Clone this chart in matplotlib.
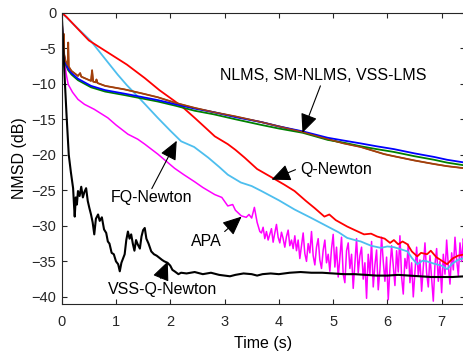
import numpy as np
import matplotlib.pyplot as plt

plt.rcParams['font.family'] = ['Liberation Sans', 'DejaVu Sans']

# NLMS (blue), SM-NLMS (green), VSS-LMS (brown)
t_nlms = [0, 0.01, 0.02, 0.04, 0.07, 0.12, 0.18, 0.3, 0.54, 0.8, 1.16, 1.5, 1.77, 2.1, 2.45,
          2.8, 3.2, 3.68, 4.0, 4.44, 4.9, 5.2, 5.51, 5.8, 6.12, 6.5, 6.86, 7.1, 7.43]
nlms = [0, -2.5, -4.5, -6.0, -7.0, -7.9, -8.5, -9.3, -10.3, -10.9, -11.4, -11.9, -12.3, -12.9, -13.5,
        -14.0, -14.7, -15.4, -16.0, -16.7, -17.6, -18.0, -18.4, -18.8, -19.2, -19.8, -20.3, -20.7, -21.1]
sm_nlms = [0, -2.5, -4.6, -6.2, -7.2, -8.1, -8.7, -9.5, -10.5, -11.1, -11.6, -12.1, -12.5, -13.1, -13.8,
           -14.3, -15.0, -15.8, -16.3, -16.9, -17.9, -18.3, -18.8, -19.2, -19.6, -20.2, -20.7, -21.1, -21.5]

t_vss = [0, 0.01, 0.02, 0.035, 0.04, 0.045, 0.07, 0.11, 0.12, 0.13, 0.18, 0.3, 0.34, 0.36, 0.54,
         0.56, 0.58, 0.63, 0.64, 0.66, 0.8, 1.16, 1.5, 1.77, 2.1, 2.45, 2.8, 3.2, 3.68, 4.0,
         4.44, 4.9, 5.2, 5.51, 5.94, 6.12, 6.5, 6.86, 7.1, 7.43]
vss_lms = [0, -2.4, -4.3, -5.5, -3.0, -5.8, -6.8, -7.4, -4.2, -7.6, -8.2, -8.9, -8.5, -9.0, -9.6,
           -8.1, -9.7, -9.8, -9.4, -9.9, -10.3, -10.8, -11.4, -11.9, -12.7, -13.4, -14.0, -14.6, -15.4, -16.0,
           -16.8, -17.8, -18.4, -18.9, -19.9, -20.2, -20.8, -21.3, -21.6, -21.9]

# Q-Newton (red)
t_qn = [0, 0.09, 0.3, 0.5, 0.85, 1.2, 1.53, 1.8, 2.0, 2.2, 2.45, 2.65, 2.82, 3.06, 3.2, 3.37,
        3.6, 3.92, 4.1, 4.29, 4.5, 4.66, 4.84, 4.93, 5.05, 5.26, 5.4, 5.57, 5.7, 5.81, 5.95,
        6.05, 6.12, 6.2, 6.28, 6.37, 6.45, 6.55, 6.62, 6.73, 6.8, 6.9, 7.0, 7.1, 7.2, 7.3, 7.43]
q_newton = [0, -0.6, -2.3, -3.9, -5.6, -7.3, -9.2, -10.9, -12.0, -13.1, -14.8, -16.2, -17.4, -18.5, -19.3, -20.4,
            -22.0, -23.4, -24.2, -25.1, -26.5, -27.5, -28.7, -28.4, -29.2, -30.1, -30.6, -31.2, -31.1, -31.5, -31.8,
            -32.4, -32.0, -32.6, -32.2, -32.6, -33.6, -34.3, -33.8, -34.0, -33.5, -34.4, -34.9, -35.4, -34.6, -34.2, -34.0]

# FQ-Newton (light blue)
t_fq = [0, 0.2, 0.54, 0.8, 1.03, 1.2, 1.34, 1.55, 1.77, 2.0, 2.2, 2.44, 2.7, 2.9, 3.06, 3.3,
        3.5, 3.68, 4.0, 4.29, 4.6, 4.9, 5.1, 5.26, 5.4, 5.51, 5.7, 5.88, 6.0, 6.12, 6.25,
        6.37, 6.45, 6.55, 6.65, 6.73, 6.85, 7.0, 7.1, 7.2, 7.3, 7.43]
fq_newton = [0, -1.5, -4.0, -6.5, -8.7, -10.2, -11.3, -13.0, -14.8, -16.6, -18.1, -18.9, -20.4, -21.7, -22.8, -23.9,
             -24.4, -25.1, -26.4, -27.7, -28.9, -30.1, -30.9, -31.7, -32.0, -32.2, -32.8, -33.1, -32.9, -33.0, -33.3,
             -33.6, -34.5, -35.4, -34.9, -35.0, -35.3, -35.6, -36.1, -35.3, -34.8, -34.5]

# APA (magenta): smooth start, then noisy tail
t_apa_start = [0, 0.02, 0.05, 0.08, 0.12, 0.2, 0.3, 0.42, 0.6, 0.85, 1.0, 1.22, 1.4, 1.53, 1.77,
               2.08, 2.25, 2.45, 2.6, 2.82, 2.95, 3.06, 3.15, 3.2, 3.31, 3.4, 3.45, 3.5, 3.55, 3.6, 3.65]
apa_start = [0, -3.5, -6.4, -8.5, -10.1, -11.2, -12.2, -12.9, -13.6, -14.8, -15.8, -17.1, -17.8, -18.5, -19.9,
             -21.9, -22.8, -23.8, -24.6, -25.6, -26.0, -27.2, -27.0, -27.8, -28.6, -28.8, -28.4, -28.9, -27.4, -29.5, -30.8]
apa_tail = [-31.0, -30.2, -31.8, -30.8, -32.0, -31.2, -30.4, -32.3, -31.0, -29.8, -31.6, -32.4, -30.9, -31.8,
            -33.0, -31.5, -30.6, -32.8, -32.0, -33.2,
            -31.4, -33.5, -32.0, -34.6, -32.8, -31.0, -33.9, -35.0, -32.5, -33.8, -30.8, -34.2, -35.5, -33.0,
            -31.8, -34.8, -36.0, -33.4, -32.0, -35.2, -34.0, -36.4, -33.2,
            -31.2, -35.8, -33.0, -37.2, -34.5, -31.6, -36.8, -38.0, -33.5, -32.4, -36.0, -34.0, -38.8, -35.2,
            -31.8, -36.6, -34.2,
            -33.0, -37.5, -35.2, -40.2, -34.0, -36.8, -32.2, -38.6, -35.5, -33.4, -39.0, -36.2, -31.6, -35.0,
            -37.8, -34.4, -40.4, -36.0, -32.8, -35.6, -38.4, -33.5, -36.5, -31.4, -37.2, -39.6, -34.6, -36.0,
            -32.6, -38.0, -35.2, -40.0, -36.4, -33.0, -37.0, -34.8, -39.2, -35.8, -32.4, -36.6, -38.6, -34.2,
            -37.4, -40.6, -35.4, -33.2, -37.8, -35.0, -39.4, -34.0, -36.8, -32.0, -35.6, -38.2, -33.8, -36.2,
            -31.6, -34.8, -37.0, -32.4, -35.0, -31.8, -33.2]

# VSS-Q-Newton (black)
t_vqn = [0, 0.03, 0.06, 0.09, 0.13, 0.17, 0.21, 0.23, 0.24, 0.26, 0.28, 0.3, 0.33, 0.36, 0.39, 0.42,
         0.45, 0.48, 0.51, 0.54, 0.57, 0.6, 0.63, 0.67, 0.7, 0.74, 0.78, 0.82, 0.85, 0.88, 0.92,
         0.96, 1.0, 1.04, 1.07, 1.1, 1.13, 1.16, 1.19, 1.22, 1.25, 1.28, 1.31, 1.34, 1.37, 1.4,
         1.44, 1.47, 1.5, 1.53, 1.56, 1.6, 1.65, 1.7, 1.75, 1.8, 1.85, 1.89, 1.95, 2.0, 2.04,
         2.08, 2.15, 2.2, 2.3, 2.45, 2.6, 2.75, 2.9, 3.0, 3.1, 3.2, 3.35, 3.5, 3.6, 3.7, 3.85,
         4.0, 4.2, 4.4, 4.6, 4.8, 5.0, 5.2, 5.4, 5.6, 5.8, 6.0, 6.2, 6.4, 6.6, 6.8, 7.0, 7.2, 7.43]
vss_q_newton = [0, -5, -10, -14.5, -20.0, -22.5, -24.7, -27.5, -28.7, -26.0, -27.0, -25.1, -25.8, -24.5, -26.0, -25.2,
                -24.7, -26.5, -27.5, -28.4, -29.5, -31.2, -29.0, -28.4, -29.3, -28.8, -30.5, -31.0, -32.2, -32.5, -33.8,
                -34.0, -35.0, -35.4, -36.4, -35.2, -34.6, -34.0, -32.0, -30.8, -31.8, -31.2, -32.5, -33.5, -32.0, -32.6,
                -33.2, -31.5, -30.6, -30.3, -31.8, -32.5, -33.6, -34.0, -34.2, -34.5, -34.8, -35.0, -35.2, -35.6, -36.2,
                -36.4, -36.8, -36.6, -36.7, -36.5, -36.8, -36.6, -36.9, -37.0, -37.1, -36.9, -36.7, -36.8, -37.0, -36.8, -36.7,
                -36.8, -36.6, -36.5, -36.6, -36.6, -36.7, -36.8, -36.8, -36.9, -37.0, -37.0, -36.9, -37.0, -37.1, -37.2, -37.2, -37.2, -37.1]

t_apa_tail = np.linspace(3.68, 7.43, len(apa_tail))
t_apa = list(t_apa_start) + list(t_apa_tail)
apa = apa_start + apa_tail

fig = plt.figure(figsize=(4.63, 3.52), dpi=100)
ax = fig.add_axes([61.7 / 463, 48 / 352, (465 - 61.7) / 463, (304 - 12.7) / 352])

ax.plot(t_apa, apa, color='#FF00FF', lw=1.1)
ax.plot(t_fq, fq_newton, color='#4DBEEE', lw=1.3)
ax.plot(t_qn, q_newton, color='#FF0000', lw=1.3)
ax.plot(t_vss, vss_lms, color='#A2400C', lw=1.3)
ax.plot(t_nlms, sm_nlms, color='#008000', lw=1.3)
ax.plot(t_nlms, nlms, color='#0000FF', lw=1.3)
ax.plot(t_vss, vss_lms, color='#A2400C', lw=1.0)
ax.plot(t_vqn, vss_q_newton, color='black', lw=1.5)

ax.set_xlim(0, 7.43)
ax.set_ylim(-41, 0)
ax.set_xticks(range(0, 8))
ax.set_yticks(range(-40, 1, 5))

for s in ax.spines.values():
    s.set_color('#262626')
    s.set_linewidth(0.8)
ax.tick_params(direction='in', length=3.5, width=0.8, colors='#262626', labelsize=10.5,
               top=True, right=True)
ax.tick_params(axis='x', pad=8)
ax.tick_params(axis='y', pad=4)

ax.set_xlabel('Time (s)', fontsize=11.5, labelpad=5)
ax.set_ylabel('NMSD (dB)', fontsize=11.5, labelpad=3)

arr = dict(arrowstyle='-|>,head_length=0.9,head_width=0.4', color='black', lw=0.8,
           mutation_scale=13, shrinkA=0, shrinkB=0)

def px(x, y):
    return ((x - 61.7) / 54.4, -(y - 12.7) / 7.12)

ax.text(*px(324, 76), 'NLMS, SM-NLMS, VSS-LMS', fontsize=11.5, ha='center', va='center')
ax.annotate('', xy=px(303, 133), xytext=px(321, 86), arrowprops=arr)

ax.text(*px(337, 170), 'Q-Newton', fontsize=11.5, ha='center', va='center')
ax.annotate('', xy=px(272, 180), xytext=px(296, 170), arrowprops=arr)

ax.text(*px(152, 198), 'FQ-Newton', fontsize=11.5, ha='center', va='center')
ax.annotate('', xy=px(177, 141), xytext=px(152, 189), arrowprops=arr)

ax.text(*px(207, 242), 'APA', fontsize=11.5, ha='center', va='center')
ax.annotate('', xy=px(242, 217), xytext=px(225, 232), arrowprops=arr)

ax.text(*px(163, 290), 'VSS-Q-Newton', fontsize=11.5, ha='center', va='center')
ax.annotate('', xy=px(168, 262), xytext=px(161, 279), arrowprops=arr)

fig.savefig('out.png', dpi=100)
